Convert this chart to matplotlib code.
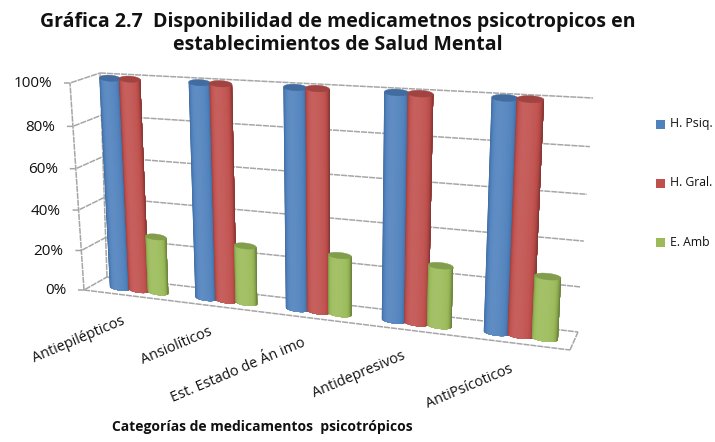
import numpy as np
import matplotlib
matplotlib.use("Agg")
import matplotlib.pyplot as plt
from matplotlib.collections import PolyCollection
from matplotlib.transforms import Transform
from matplotlib.patches import Rectangle, Polygon
from matplotlib.colors import to_rgb

categories = ["Antiepilépticos", "Ansiolíticos", "Est. Estado de Án imo", "Antidepresivos", "AntiPsícoticos"]
h_psiq = [100, 100, 100, 100, 100]
h_gral = [100, 100, 100, 100, 100]
e_amb = [27, 27, 27, 27, 27]
series_names = ["H. Psiq.", "H. Gral.", "E. Amb"]
series_colors = ["#4F81BD", "#C0504D", "#9BBB59"]
value_ticks = [0, 20, 40, 60, 80, 100]
title = "Gráfica 2.7  Disponibilidad de medicametnos psicotropicos en\nestablecimientos de Salud Mental"
xlabel = "Categorías de medicamentos  psicotrópicos"


def homography(quad):
    """Unit square (0,0),(1,0),(1,1),(0,1) -> quad of pixel corners."""
    src = [(0, 0), (1, 0), (1, 1), (0, 1)]
    A, b = [], []
    for (x, y), (u, v) in zip(src, quad):
        A.append([x, y, 1, 0, 0, 0, -u * x, -u * y]); b.append(u)
        A.append([0, 0, 0, x, y, 1, -v * x, -v * y]); b.append(v)
    return np.append(np.linalg.solve(np.array(A, float), np.array(b, float)), 1).reshape(3, 3)


class Persp(Transform):
    """(category position 0..5, value 0..100) -> pixel space of the canvas axes."""
    input_dims = 2
    output_dims = 2

    def __init__(self, quad):
        super().__init__()
        self.H = homography(quad)

    def transform_non_affine(self, xy):
        xy = np.asarray(xy, float)
        p = np.c_[xy[:, 0] / 5.0, xy[:, 1] / 100.0, np.ones(len(xy))] @ self.H.T
        return p[:, :2] / p[:, 2:]


fig = plt.figure(figsize=(7.15, 4.42), dpi=100)
ax = fig.add_axes([0, 0, 1, 1])
ax.set_xlim(0, 715)
ax.set_ylim(442, 0)
ax.axis("off")

# planes of the 3-D box, as BL, BR, TR, TL pixel corners
back = Persp([(107, 277), (578, 332), (593, 98), (100, 73)]) + ax.transData
front = Persp([(84, 290), (570, 350), (588, 106), (70, 83)]) + ax.transData
bars = Persp([(97, 285), (575, 342), (588, 102), (86, 77)]) + ax.transData

GRID = "#a6a6a6"
lkw = dict(color=GRID, lw=1.1, ls=(0, (4, 0.6)), zorder=1, solid_capstyle="butt")
to_canvas = ax.transData.inverted()


def cv(tr, x, v):
    return to_canvas.transform(tr.transform([(x, v)]))[0]


for v in value_ticks:
    ax.plot([0, 5], [v, v], transform=back, **lkw)
    a, b = cv(front, 0, v), cv(back, 0, v)
    ax.plot([a[0] - 6, a[0], b[0]], [a[1], a[1], b[1]], **lkw)
    ax.text(a[0] - 18, a[1] + 1, f"{v}%", ha="right", va="center",
            fontsize=11, family="Open Sans", color="#111111")
ax.plot([0, 0], [0, 100], transform=back, **lkw)
ax.plot([0, 0], [0, 100], transform=front, **lkw)
ax.plot([0, 5], [0, 0], transform=front, **lkw)
c1, c2 = cv(front, 5, 0), cv(back, 5, 0)
ax.plot([c1[0], c2[0]], [c1[1], c2[1]], **lkw)


def shade(base, f):
    r = np.array(to_rgb(base))
    if f >= 0:
        return tuple(r + (1 - r) * f)
    return tuple(r * (1 + f))


def cylinder(cx, value, color, z):
    r = 0.12           # radius, category units
    e = 1.4            # ellipse half height, value units
    th = np.linspace(-np.pi / 2, np.pi / 2, 31)
    xs = cx + r * np.sin(th)
    arc = e * np.cos(th)
    verts, cols = [], []
    for i in range(len(th) - 1):
        # each strip reaches to the right rim; later strips paint over it, so no seams
        bottom = list(zip(xs[i:], -arc[i:]))
        verts.append(bottom + [(xs[-1], value), (xs[i], value - arc[i])])
        m = 0.5 * (th[i] + th[i + 1])
        s = np.sin(m)
        f = 0.09 * np.cos(m * 1.3 + 0.5) - (0.30 * max(s, 0) ** 6) - (0.20 * max(-s, 0) ** 6)
        cols.append(shade(color, f))
    ax.add_collection(PolyCollection(verts, facecolors=cols, edgecolors="none",
                                     transform=bars, zorder=z))
    t2 = np.linspace(0, 2 * np.pi, 40)
    ax.add_patch(Polygon(np.c_[cx + r * np.cos(t2), value + e * np.sin(t2)], closed=True,
                         fc=shade(color, -0.16), ec=shade(color, -0.16), lw=0.3,
                         transform=bars, zorder=z + 0.1))


for i in range(len(categories)):
    for j, (vals, col) in enumerate(zip([h_psiq, h_gral, e_amb], series_colors)):
        cylinder(i + 0.5 + (j - 1) * 0.225, vals[i], col, 3 + j)

for i, name in enumerate(categories):
    p = cv(front, i + 0.5, 0)
    ax.annotate(name, xy=p, xytext=(-1, -18), textcoords="offset points", ha="right", va="center",
                rotation=23, rotation_mode="anchor", fontsize=10.4, family="Open Sans", color="#111111")

for name, col, y in zip(series_names, series_colors, [124, 183, 242]):
    ax.add_patch(Rectangle((656, y - 4.5), 9, 9, fc=col, ec="none"))
    ax.text(670, y, name, va="center", ha="left", fontsize=8.8, family="Open Sans", color="#111111")

ax.text(338, 33.5, title, ha="center", va="center", fontsize=14, fontweight="bold", family="Open Sans",
        color="#111111", linespacing=1.2)
ax.text(262, 427, xlabel, ha="center", va="center", fontsize=10, fontweight="bold", family="Open Sans",
        color="#111111")

fig.savefig("out.png", dpi=100, facecolor="white")
